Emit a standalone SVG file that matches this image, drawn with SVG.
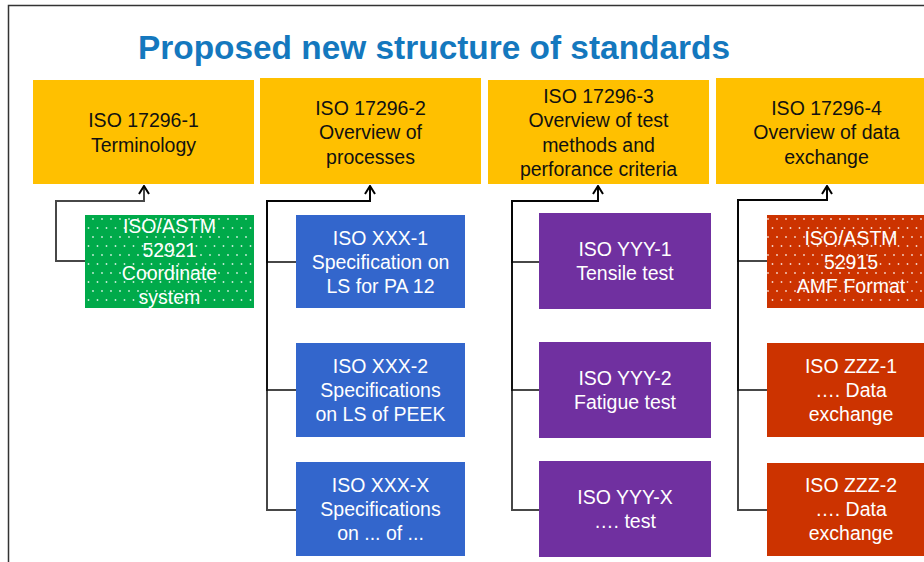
<svg xmlns="http://www.w3.org/2000/svg" width="924" height="562" viewBox="0 0 924 562">
<defs>
<style>
.t{font-family:"Liberation Sans",Arial,sans-serif;font-size:19.5px;text-anchor:middle}
.hd{fill:#FFC000}
.ht{fill:#111}
.wt{fill:#fff}
.cn{fill:none;stroke:#000;stroke-opacity:0.72;stroke-width:2}
</style>
<pattern id="dots" width="9" height="18" patternUnits="userSpaceOnUse">
<circle cx="3" cy="3" r="0.9" fill="#fff" fill-opacity="0.8"/>
<circle cx="7.5" cy="12" r="0.9" fill="#fff" fill-opacity="0.8"/>
</pattern>
<marker id="arr" viewBox="0 0 10 12" refX="9" refY="6" markerWidth="10" markerHeight="12" markerUnits="userSpaceOnUse" orient="auto">
<path d="M1,1 L9,6 L1,11" fill="none" stroke="#000" stroke-width="2"/>
</marker>
</defs>
<rect width="924" height="562" fill="#fff"/>
<path d="M8.5,562 V5.5 H924" fill="none" stroke="#333" stroke-width="1.5"/>
<text x="138" y="59" font-family="Liberation Sans,Arial,sans-serif" font-weight="bold" font-size="33" fill="#1478BE" textLength="592" lengthAdjust="spacingAndGlyphs">Proposed new structure of standards</text>

<g id="connectors">
<path class="cn" d="M85,261 H56 V201 H144 V186" marker-end="url(#arr)"/>
<path class="cn" d="M296,262 H267 V201 H370 V186" marker-end="url(#arr)"/>
<path class="cn" d="M296,390 H267 V201 H370 V186"/>
<path class="cn" d="M296,510 H267 V201 H370 V186"/>
<path class="cn" d="M539,262 H512 V201 H598 V186" marker-end="url(#arr)"/>
<path class="cn" d="M539,390 H512 V201 H598 V186"/>
<path class="cn" d="M539,510 H512 V201 H598 V186"/>
<path class="cn" d="M767,261 H738 V200 H827 V186" marker-end="url(#arr)"/>
<path class="cn" d="M767,390 H738 V200 H827 V186"/>
<path class="cn" d="M767,510 H738 V200 H827 V186"/>
</g>

<g id="h1"><rect class="hd" x="33" y="80" width="221" height="104"/>
<text class="t ht"><tspan x="143.5" y="127">ISO 17296-1</tspan><tspan x="143.5" y="151.5">Terminology</tspan></text></g>
<g id="h2"><rect class="hd" x="260" y="78" width="221" height="106"/>
<text class="t ht"><tspan x="370.5" y="114.5">ISO 17296-2</tspan><tspan x="370.5" y="139">Overview of</tspan><tspan x="370.5" y="163.5">processes</tspan></text></g>
<g id="h3"><rect class="hd" x="488" y="80" width="221" height="104"/>
<text class="t ht"><tspan x="598.5" y="102.5">ISO 17296-3</tspan><tspan x="598.5" y="127">Overview of test</tspan><tspan x="598.5" y="151.5">methods and</tspan><tspan x="598.5" y="176">perforance criteria</tspan></text></g>
<g id="h4"><rect class="hd" x="716" y="78" width="221" height="106"/>
<text class="t ht"><tspan x="826.5" y="114.5">ISO 17296-4</tspan><tspan x="826.5" y="139">Overview of data</tspan><tspan x="826.5" y="163.5">exchange</tspan></text></g>

<g id="g1"><rect x="85" y="215" width="169" height="93" fill="#00AA4A"/><rect x="85" y="215" width="169" height="93" fill="url(#dots)"/>
<text class="t wt"><tspan x="169.5" y="233">ISO/ASTM</tspan><tspan x="169.5" y="256.5">52921</tspan><tspan x="169.5" y="280">Coordinate</tspan><tspan x="169.5" y="303.5">system</tspan></text></g>

<g id="b1"><rect x="296" y="215" width="169" height="93" fill="#3366CC"/>
<text class="t wt"><tspan x="380.5" y="245">ISO XXX-1</tspan><tspan x="380.5" y="269">Specification on</tspan><tspan x="380.5" y="293">LS for PA 12</tspan></text></g>
<g id="b2"><rect x="296" y="343" width="169" height="94" fill="#3366CC"/>
<text class="t wt"><tspan x="380.5" y="373">ISO XXX-2</tspan><tspan x="380.5" y="397">Specifications</tspan><tspan x="380.5" y="421">on LS of PEEK</tspan></text></g>
<g id="b3"><rect x="296" y="462" width="169" height="94" fill="#3366CC"/>
<text class="t wt"><tspan x="380.5" y="492">ISO XXX-X</tspan><tspan x="380.5" y="516">Specifications</tspan><tspan x="380.5" y="540">on ... of ...</tspan></text></g>

<g id="p1"><rect x="539" y="213" width="172" height="96" fill="#7030A0"/>
<text class="t wt"><tspan x="625" y="256">ISO YYY-1</tspan><tspan x="625" y="280">Tensile test</tspan></text></g>
<g id="p2"><rect x="539" y="342" width="172" height="96" fill="#7030A0"/>
<text class="t wt"><tspan x="625" y="385">ISO YYY-2</tspan><tspan x="625" y="409">Fatigue test</tspan></text></g>
<g id="p3"><rect x="539" y="461" width="172" height="96" fill="#7030A0"/>
<text class="t wt"><tspan x="625" y="504">ISO YYY-X</tspan><tspan x="625" y="528">…. test</tspan></text></g>

<g id="r1"><rect x="767" y="215" width="168" height="93" fill="#CC3300"/><rect x="767" y="215" width="168" height="93" fill="url(#dots)"/>
<text class="t wt"><tspan x="851" y="245">ISO/ASTM</tspan><tspan x="851" y="269">52915</tspan><tspan x="851" y="293">AMF Format</tspan></text></g>
<g id="r2"><rect x="767" y="343" width="168" height="94" fill="#CC3300"/>
<text class="t wt"><tspan x="851" y="373">ISO ZZZ-1</tspan><tspan x="851" y="397">…. Data</tspan><tspan x="851" y="421">exchange</tspan></text></g>
<g id="r3"><rect x="767" y="463" width="168" height="93" fill="#CC3300"/>
<text class="t wt"><tspan x="851" y="492">ISO ZZZ-2</tspan><tspan x="851" y="516">…. Data</tspan><tspan x="851" y="540">exchange</tspan></text></g>
</svg>
